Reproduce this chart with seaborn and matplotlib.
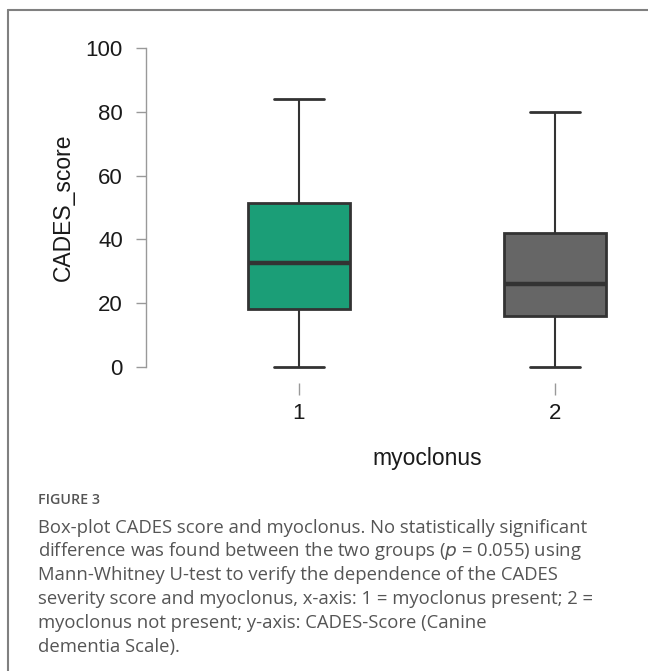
import numpy as np
import pandas as pd
import matplotlib
matplotlib.use("Agg")
import matplotlib.pyplot as plt
from matplotlib.lines import Line2D
import seaborn as sns

# ---- data ----
groups = ["1", "2"]
group1_values = [0, 18, 32.5, 51.3, 84]
group2_values = [0, 16, 26, 42, 80]
box_colors = ["#1b9e77", "#666666"]
y_ticks = [0, 20, 40, 60, 80, 100]
x_label = "myoclonus"
y_label = "CADES_score"
fig_label = "FIGURE 3"
caption_lines = [
    "Box-plot CADES score and myoclonus. No statistically significant",
    "difference was found between the two groups ($p$ = 0.055) using",
    "Mann-Whitney U-test to verify the dependence of the CADES",
    "severity score and myoclonus, x-axis: 1 = myoclonus present; 2 =",
    "myoclonus not present; y-axis: CADES-Score (Canine",
    "dementia Scale).",
]

df = pd.DataFrame({
    "myoclonus": [groups[0]] * len(group1_values) + [groups[1]] * len(group2_values),
    "CADES_score": group1_values + group2_values,
})

sns.set_style("white")
plt.rcParams["font.family"] = ["Liberation Sans", "DejaVu Sans"]

W, H = 648, 671
fig = plt.figure(figsize=(W / 100, H / 100), dpi=100)

# axes placement in pixels
y0_px, y100_px = 366.7, 48.3
px_per_unit_y = (y0_px - y100_px) / 100
ylo, yhi = -5, 105
ax_bottom_px = y0_px + (0 - ylo) * px_per_unit_y
ax_top_px = y0_px - yhi * px_per_unit_y
ax_left_px = 146.0
c1_px, c2_px = 299.0, 555.0
px_per_cat = c2_px - c1_px
xlo = -(c1_px - ax_left_px) / px_per_cat
ax_right_px = 640.0
xhi = 1 + (ax_right_px - c2_px) / px_per_cat
ax = fig.add_axes([ax_left_px / W, 1 - ax_bottom_px / H,
                   (ax_right_px - ax_left_px) / W, (ax_bottom_px - ax_top_px) / H])

sns.boxplot(data=df, x="myoclonus", y="CADES_score", hue="myoclonus",
            palette=box_colors, saturation=1, legend=False, width=0.4,
            linecolor="#333333", linewidth=1.5, whis=1.5, ax=ax,
            boxprops={"linewidth": 2.0},
            medianprops={"linewidth": 3.2, "color": "#333333"},
            capprops={"linewidth": 2.0},
            capwidths=0.195)

ax.set_xlim(xlo, xhi)
ax.set_ylim(ylo, yhi)
ax.set_yticks(y_ticks)
ax.set_yticklabels([str(t) for t in y_ticks])
for s in ["top", "right", "bottom"]:
    ax.spines[s].set_visible(False)
ax.spines["left"].set_bounds(0, 100)
ax.spines["left"].set_color("#999999")
ax.spines["left"].set_linewidth(1.0)
ax.tick_params(axis="y", direction="out", length=7.2, width=1.0, color="#999999",
               labelsize=16, pad=9.4, left=True, labelcolor="#1a1a1a")
ax.tick_params(axis="x", direction="out", length=8.5, width=1.0, color="#999999",
               labelsize=16, pad=6, bottom=True, labelcolor="#1a1a1a")
ax.set_xlabel("")
ax.set_ylabel("")

fig.text(427 / W, 1 - 458 / H, x_label, ha="center", va="center",
         fontsize=16.5, color="#1a1a1a")
fig.text(63 / W, 1 - 207.5 / H, y_label, ha="center", va="center",
         rotation=90, fontsize=16.5, color="#1a1a1a")

# caption
cap_family = ["Open Sans", "DejaVu Sans"]
fig.text(38 / W, 1 - 500 / H, fig_label, ha="left", va="center", fontsize=10.3,
         color="#555555", family=cap_family, fontweight="semibold")
for i, line in enumerate(caption_lines):
    fig.text(38 / W, 1 - (527.7 + i * 23.8) / H, line, ha="left", va="center",
             fontsize=13.3, color="#555555", family=cap_family)

# frame lines (top and left)
fig.add_artist(Line2D([7.5 / W, 7.5 / W], [0, 1 - 10 / H], transform=fig.transFigure,
                      color="#808080", linewidth=1.5))
fig.add_artist(Line2D([7.5 / W, 1], [1 - 10 / H, 1 - 10 / H], transform=fig.transFigure,
                      color="#808080", linewidth=1.5))

fig.savefig("out.png", dpi=100)
